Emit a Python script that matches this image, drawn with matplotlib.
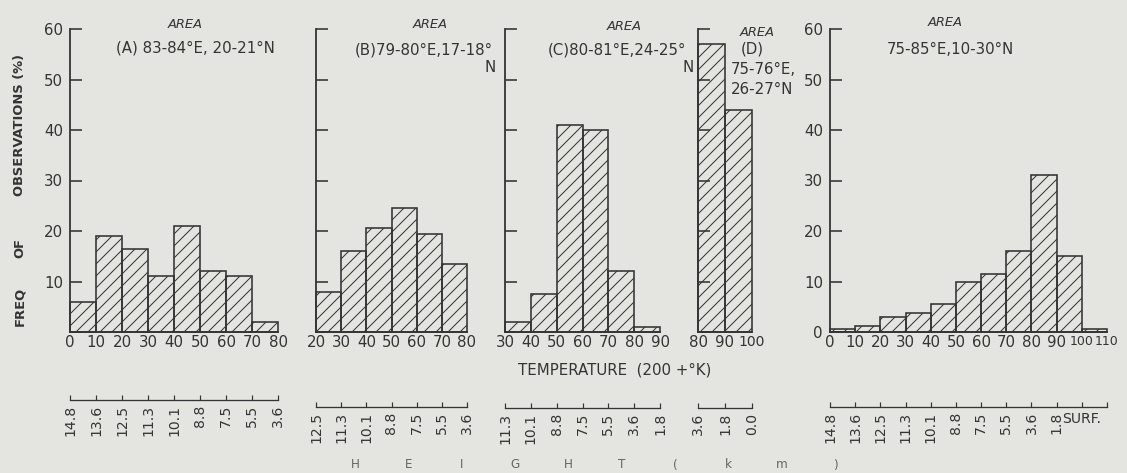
import numpy as np
import matplotlib.pyplot as plt

# freq of observations (%) in 10 deg bins, temperature given as (T - 200 K)
edges_a = [0, 10, 20, 30, 40, 50, 60, 70, 80]
freq_a = [6, 19, 16.5, 11, 21, 12, 11, 2]
edges_b = [20, 30, 40, 50, 60, 70, 80]
freq_b = [8, 16, 20.5, 24.5, 19.5, 13.5]
edges_c = [30, 40, 50, 60, 70, 80, 90]
freq_c = [2, 7.5, 41, 40, 12, 1]
edges_d = [80, 90, 100]
freq_d = [57, 44]
edges_e = [0, 10, 20, 30, 40, 50, 60, 70, 80, 90, 100, 110]
freq_e = [0.5, 1.2, 3, 3.7, 5.5, 10, 11.5, 16, 31, 15, 0.5]

# height (km) at each bin edge
hgt_a = ['14.8', '13.6', '12.5', '11.3', '10.1', '8.8', '7.5', '5.5', '3.6']
hgt_b = ['12.5', '11.3', '10.1', '8.8', '7.5', '5.5', '3.6']
hgt_c = ['11.3', '10.1', '8.8', '7.5', '5.5', '3.6', '1.8']
hgt_d = ['3.6', '1.8', '0.0']
hgt_e = ['14.8', '13.6', '12.5', '11.3', '10.1', '8.8', '7.5', '5.5', '3.6', '1.8', 'SURF.', '']

yticks = [0, 10, 20, 30, 40, 50, 60]

W, H = 1127, 473
ink = '#343434'
paper = '#e4e4e0'

plt.rcParams['hatch.linewidth'] = 1.0
fig = plt.figure(figsize=(W/72, H/72), dpi=72, facecolor=paper)

def px(x, y):
	return x/W, 1 - y/H

def panel(x0, x1, edges, freq, hgt, ylab, line_y, big_fs=15):
	ax = fig.add_axes([x0/W, 1 - 332/H, (x1 - x0)/W, 303/H])
	ax.set_facecolor('none')
	ax.bar(edges[:-1], freq, width=10, align='edge', facecolor='none',
		edgecolor=ink, hatch='//', linewidth=1.6, clip_on=False)
	ax.set_xlim(edges[0], edges[-1])
	ax.set_ylim(0, 60)
	for s in ['top', 'right']:
		ax.spines[s].set_visible(False)
	for s in ['left', 'bottom']:
		ax.spines[s].set_color(ink)
		ax.spines[s].set_linewidth(1.8)
	ax.set_xticks(edges)
	ax.set_xticklabels([str(e) for e in edges], fontsize=15, color=ink)
	for t in ax.get_xticklabels():
		if len(t.get_text()) > 2:
			t.set_fontsize(big_fs)
	ax.tick_params(axis='x', length=0, pad=3)
	ax.set_yticks(yticks)
	ax.tick_params(axis='y', direction='in', length=12, width=1.6, color=ink,
		labelsize=15, labelcolor=ink, pad=7)
	if ylab is None:
		ax.tick_params(axis='y', labelleft=False)
	else:
		ax.set_yticklabels(ylab)

	# height scale below the panel
	hx = fig.add_axes([x0/W, 1 - line_y/H, (x1 - x0)/W, 6/H])
	hx.set_facecolor('none')
	hx.set_xlim(edges[0], edges[-1])
	hx.set_yticks([])
	for s in ['top', 'right', 'left']:
		hx.spines[s].set_visible(False)
	hx.spines['bottom'].set_color(ink)
	hx.spines['bottom'].set_linewidth(1.3)
	hx.set_xticks(edges)
	hx.set_xticklabels(hgt, rotation=90, fontsize=14, color=ink)
	hx.tick_params(axis='x', direction='in', length=5, width=1.2, color=ink, pad=5)
	for t in hx.get_xticklabels():
		if t.get_text() == 'SURF.':
			t.set_rotation(0)
	return ax

panel(70, 278, edges_a, freq_a, hgt_a, ['', '10', '20', '30', '40', '50', '60'], 400)
panel(316, 467, edges_b, freq_b, hgt_b, None, 407)
panel(505, 660, edges_c, freq_c, hgt_c, None, 408)
panel(698, 752, edges_d, freq_d, hgt_d, None, 408, big_fs=14)
panel(830, 1107, edges_e, freq_e, hgt_e, [str(v) for v in yticks], 407, big_fs=12.5)

def txt(x, y, s, **kw):
	kw.setdefault('fontsize', 15)
	kw.setdefault('ha', 'center')
	kw.setdefault('color', ink)
	fig.text(*px(x, y), s, va='center', **kw)

# area titles
for x, y in [(185, 24), (430, 24), (624, 27), (757, 32), (945, 23)]:
	txt(x, y, 'AREA', fontsize=13, style='italic')
txt(195, 48, '(A) 83-84°E, 20-21°N')
txt(424, 50, '(B)79-80°E,17-18°')
txt(490, 67, 'N')
txt(617, 50, '(C)80-81°E,24-25°')
txt(688, 67, 'N')
txt(752, 49, '(D)')
txt(731, 70, '75-76°E,', ha='left')
txt(731, 90, '26-27°N', ha='left')
txt(950, 50, '75-85°E,10-30°N')

# axis titles
txt(20, 306, 'FREQ', fontsize=13, fontweight='bold', rotation=90)
txt(20, 248, 'OF', fontsize=13, fontweight='bold', rotation=90)
txt(20, 125, 'OBSERVATIONS (%)', fontsize=13, fontweight='bold', rotation=90)
txt(615, 370, 'TEMPERATURE  (200 +°K)')
for x, c in zip(np.linspace(355, 835, 10), 'HEIGHT(km)'):
	txt(x, 465, c, fontsize=12, color='#666666')

fig.savefig('out.png', dpi=72, facecolor=paper)
